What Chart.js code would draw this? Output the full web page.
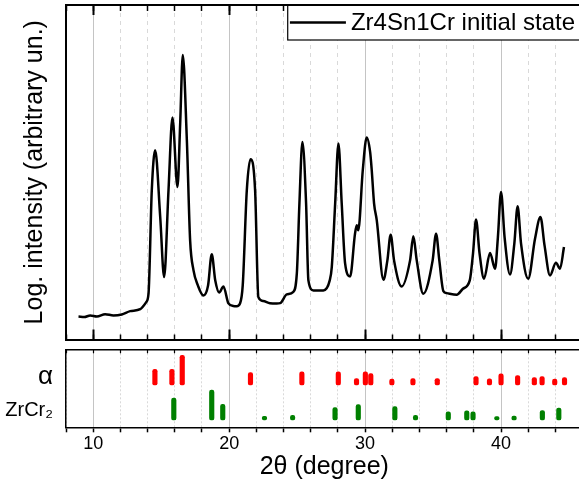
<!DOCTYPE html>
<html><head><meta charset="utf-8">
<script src="https://cdn.jsdelivr.net/npm/chart.js@4.4.1/dist/chart.umd.min.js"></script>
<style>
html,body{margin:0;padding:0;background:#fff;overflow:hidden;}
#wrap{position:relative;width:579px;height:492px;overflow:hidden;background:#fff;}
#top{position:absolute;left:0;top:0;}
#bot{position:absolute;left:0;top:345px;}
</style></head><body>
<div id="wrap"><canvas id="top" width="600" height="345"></canvas><canvas id="bot" width="600" height="147"></canvas></div>
<script>
// ---- data ----
const seriesName = 'Zr4Sn1Cr initial state';
const xTitle = '2θ (degree)';
const yTitle = 'Log. intensity (arbitrary un.)';
const rowLabels = ['α', 'ZrCr₂'];

const xrdTheta = [8.92,9.35,9.78,10.27,10.88,11.49,12.1,12.72,13.46,13.9,14.07,14.31,14.56,14.93,15.22,15.54,15.83,16.2,16.4,16.59,16.89,17.13,17.38,17.7,18.1,18.45,18.72,18.98,19.27,19.58,19.95,20.3,20.56,20.8,21.0,21.3,21.57,21.91,22.15,22.5,23.0,23.5,23.75,24.24,24.7,24.98,25.17,25.39,25.66,25.83,26.2,26.93,27.4,27.55,27.8,28.04,28.28,28.53,28.9,29.26,29.39,29.5,29.83,30.12,30.37,30.49,30.66,30.86,31.35,31.64,31.88,32.13,32.69,33.31,33.55,33.8,34.28,34.97,35.22,35.46,35.76,36.0,36.74,37.2,37.7,37.94,38.16,38.42,38.75,39.19,39.56,39.77,40.0,40.26,40.66,40.98,41.22,41.47,42.0,42.5,42.9,43.2,43.6,44.04,44.34,44.63];
const xrdIntensity = [23,22.5,24,23,25.3,24,25,28.3,30.3,37.3,45.7,149,189,122.3,62.3,149,221.7,152.3,216,284,199,99,69,54,44,54,85,59,47,53,36,33.5,33.3,36,54,149,180,149,42.3,38.5,36.3,36,36.3,45,47.3,66,136,197.3,136,59,49,49,59,72.3,136,195.7,136,76,63,105.7,114,109,169,201.7,187.3,169,136,119,59.7,79,104.7,79,53,79,103,79,45.7,79,105.7,79,48.3,46.3,44.7,50.7,59,86,119.7,86,60.7,86.3,70.7,102.3,147.3,102.3,65,96,133,96,60.7,100.7,122.3,94,64,76.7,70.7,92.3];

const alphaTheta = [14.54,15.79,16.55,21.57,25.35,28.03,29.37,30.02,30.42,31.97,33.52,35.31,38.16,39.15,40.0,41.22,42.45,43.02,43.95,44.67];
const alphaIntensity = [15.7,15.7,29.7,12.4,13.1,13.1,6.5,13.1,11.4,5.9,6.5,6.5,8.5,6.2,11.2,9.5,7.3,8.5,5.8,7.3];
const zrcr2Theta = [15.93,18.72,19.53,22.6,24.67,27.79,29.5,32.19,33.71,36.12,37.48,37.94,39.69,40.96,43.04,44.25];
const zrcr2Intensity = [21.9,29.8,15.7,3.6,4.6,12.4,15.4,13.4,4.6,8.2,9.2,8.2,3.5,3.9,9.5,12];

// ---- layout constants ----
const FAM = "'Liberation Sans', Arial, sans-serif";
Chart.defaults.font.family = FAM;
Chart.defaults.color = '#000';
const X_MIN = 8, X_MAX = 46;
const alphaBase = 42.3, zrBase = 7.3;      // row baselines in bottom panel
const alphaRow = 50.6, zrRow = 17.3;       // row label positions
const isMajor = v => Math.abs(v % 10) < 1e-6;
const gridColor = c => (c.tick && isMajor(c.tick.value)) ? '#c4c4c4' : '#d9d9d9';

const boxedLegend = {
  id: 'boxedLegend',
  afterDraw(chart, args, o) {
    const ds = chart.data.datasets[0];
    const ctx = chart.ctx, ca = chart.chartArea;
    ctx.save();
    ctx.font = o.fontSize + 'px ' + FAM;
    const tw = ctx.measureText(ds.label).width;
    const textX = ca.right - o.padRight - tw;
    const lx1 = textX - o.gap, lx0 = lx1 - o.lineLength;
    const bl = lx0 - o.padLeft, bt = ca.top, bb = ca.top + o.height;
    const cy = (bt + bb) / 2;
    ctx.fillStyle = '#fff';
    ctx.fillRect(bl, bt + 1, chart.width - bl, bb - bt - 1);
    ctx.strokeStyle = '#000'; ctx.lineWidth = 1.2;
    ctx.strokeRect(bl + 0.5, bt, chart.width, bb - bt);
    ctx.strokeStyle = ds.borderColor; ctx.lineWidth = ds.borderWidth;
    ctx.beginPath(); ctx.moveTo(lx0, cy); ctx.lineTo(lx1, cy); ctx.stroke();
    ctx.fillStyle = '#000'; ctx.textBaseline = 'middle'; ctx.textAlign = 'left';
    ctx.fillText(ds.label, textX, cy + 0.5);
    ctx.restore();
  }
};

const hidden = s => { s.height = 0; s.paddingLeft = 0; s.paddingRight = 0; };

new Chart(document.getElementById('top'), {
  type: 'line',
  data: { datasets: [{
    label: seriesName,
    data: xrdTheta.map((t, i) => ({x: t, y: xrdIntensity[i]})),
    borderColor: '#000', borderWidth: 2.5, pointRadius: 0,
    cubicInterpolationMode: 'monotone', fill: false,
    xAxisID: 'x', yAxisID: 'y'
  }]},
  options: {
    responsive: false, animation: false,
    layout: { padding: { top: 5, right: 17.4, bottom: 5.5, left: 0 } },
    plugins: {
      legend: { display: false }, tooltip: { enabled: false },
      boxedLegend: { fontSize: 24, padRight: 7.6, gap: 5, lineLength: 56, padLeft: 2.7, height: 35 }
    },
    scales: {
      x: { type: 'linear', position: 'bottom', min: X_MIN, max: X_MAX,
        ticks: { stepSize: 2, display: false },
        grid: { drawOnChartArea: true, color: gridColor, lineWidth: 1, tickColor: '#000', tickWidth: 1.5, tickLength: -5 },
        border: { color: '#000', width: 2, dash: c => (c.type === 'tick' && !isMajor(c.tick.value)) ? [4, 4] : [] },
        afterFit: hidden },
      x2: { type: 'linear', position: 'bottom', min: X_MIN, max: X_MAX,
        ticks: { stepSize: 10, includeBounds: false, display: false },
        grid: { drawOnChartArea: false, tickColor: '#000', tickWidth: 2, tickLength: -10 },
        border: { display: false }, afterFit: hidden },
      xt: { type: 'linear', position: 'top', min: X_MIN, max: X_MAX,
        ticks: { stepSize: 2, display: false },
        grid: { drawOnChartArea: false, tickColor: '#000', tickWidth: 1.5, tickLength: -6 },
        border: { color: '#000', width: 2 }, afterFit: hidden },
      xt2: { type: 'linear', position: 'top', min: X_MIN, max: X_MAX,
        ticks: { stepSize: 10, includeBounds: false, display: false },
        grid: { drawOnChartArea: false, tickColor: '#000', tickWidth: 2, tickLength: -10 },
        border: { display: false }, afterFit: hidden },
      y: { type: 'linear', position: 'left', min: 0, max: 334,
        ticks: { display: false }, grid: { display: false },
        border: { color: '#000', width: 2 },
        title: { display: true, text: yTitle, color: '#000', font: { size: 25 }, padding: { top: 20, bottom: 0 } },
        afterFit: s => { s.width = 66; s.paddingTop = 0; s.paddingBottom = 0; } }
    }
  },
  plugins: [boxedLegend]
});

new Chart(document.getElementById('bot'), {
  type: 'bar',
  data: { datasets: [
    { label: rowLabels[0], data: alphaTheta.map((t, i) => ({x: t, y: [alphaBase, alphaBase + alphaIntensity[i]]})),
      backgroundColor: '#ff0000', barThickness: 4.5, borderRadius: 2.2, borderSkipped: false, grouped: false, xAxisID: 'x', yAxisID: 'y' },
    { label: rowLabels[1], data: zrcr2Theta.map((t, i) => ({x: t, y: [zrBase, zrBase + zrcr2Intensity[i]]})),
      backgroundColor: '#008000', barThickness: 4.5, borderRadius: 2.2, borderSkipped: false, grouped: false, xAxisID: 'x', yAxisID: 'y' }
  ]},
  options: {
    responsive: false, animation: false,
    layout: { padding: { top: 4.3, right: 17.4, bottom: 0, left: 0 } },
    plugins: { legend: { display: false }, tooltip: { enabled: false } },
    scales: {
      x: { type: 'linear', position: 'bottom', min: X_MIN, max: X_MAX, offset: false,
        ticks: { stepSize: 2, autoSkip: false, maxRotation: 0, padding: 1, color: '#000', font: { size: 18 },
          callback: v => isMajor(v) ? String(v) : '' },
        grid: { offset: false, color: gridColor, lineWidth: 1, tickColor: '#000', tickWidth: 1.5, tickLength: 5 },
        border: { color: '#000', width: 1.5, dash: c => (c.type === 'tick' && !isMajor(c.tick.value)) ? [2, 2] : [] },
        title: { display: true, text: xTitle, color: '#000', font: { size: 25 }, padding: { top: 0, bottom: 9.6 } },
        afterFit: s => { s.height = 64.7; s.paddingLeft = 0; s.paddingRight = 0; } },
      xt: { type: 'linear', position: 'top', min: X_MIN, max: X_MAX, offset: false,
        ticks: { stepSize: 2, display: false },
        grid: { offset: false, drawOnChartArea: false, tickColor: '#000', tickWidth: 1.2, tickLength: -4 },
        border: { color: '#000', width: 1.5 }, afterFit: hidden },
      y: { type: 'linear', position: 'left', min: 0, max: 78,
        afterBuildTicks: s => { s.ticks = [{value: zrRow}, {value: alphaRow}]; },
        ticks: { color: '#000', padding: 5,
          callback: v => v === alphaRow ? rowLabels[0] : rowLabels[1],
          font: c => ({ size: (c.tick && c.tick.value === alphaRow) ? 26 : 20 }) },
        grid: { display: false },
        border: { color: '#000', width: 1.5 },
        afterFit: s => { s.width = 66; s.paddingTop = 0; s.paddingBottom = 0; } }
    }
  }
});
</script>
</body></html>
